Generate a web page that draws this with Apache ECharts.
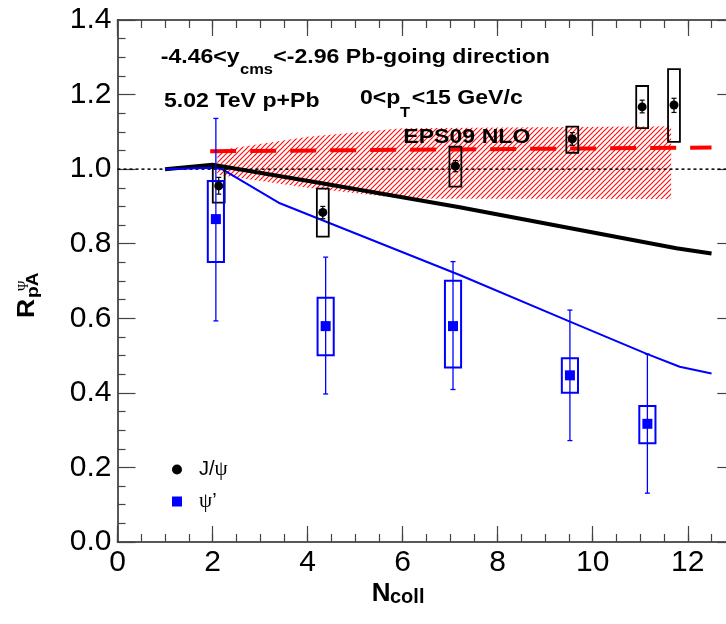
<!DOCTYPE html>
<html><head><meta charset="utf-8">
<script src="https://cdn.jsdelivr.net/npm/echarts@6/dist/echarts.min.js"></script>
<style>html,body{margin:0;padding:0;background:#fff}#c{width:726px;height:624px}</style>
</head><body><div id="c"></div>
<script>
// ---------- axes ----------
const xMin = 0, xMax = 13, xMajor = 2, xMinor = 0.5;
const yMin = 0, yMax = 1.4, yMajor = 0.2;

// ---------- J/psi data ----------
const jpsiX      = [2.13, 4.32, 7.11, 9.57, 11.04, 11.71];
const jpsiY      = [0.955, 0.884, 1.008, 1.081, 1.167, 1.172];
const jpsiStatLo = [0.933, 0.867, 0.993, 1.064, 1.151, 1.152];
const jpsiStatHi = [0.978, 0.900, 1.023, 1.098, 1.185, 1.190];
const jpsiSysLo  = [0.910, 0.819, 0.953, 1.044, 1.110, 1.073];
const jpsiSysHi  = [1.005, 0.948, 1.060, 1.114, 1.223, 1.268];

// ---------- psi' data ----------
const psiX      = [2.07, 4.38, 7.06, 9.52, 11.15];
const psiY      = [0.866, 0.579, 0.579, 0.447, 0.317];
const psiStatLo = [0.593, 0.397, 0.409, 0.272, 0.131];
const psiStatHi = [1.136, 0.764, 0.752, 0.622, 0.504];
const psiSysLo  = [0.751, 0.501, 0.468, 0.400, 0.265];
const psiSysHi  = [0.968, 0.655, 0.701, 0.493, 0.365];

// ---------- model curves ----------
const jpsiModelX = [1, 2, 4.3, 7.2, 11.76, 12.5];
const jpsiModelY = [1.0, 1.012, 0.962, 0.898, 0.788, 0.774];
const psiModelX  = [1, 2, 2.2, 3.39, 7.2, 9.52, 11.15, 11.83, 12.5];
const psiModelY  = [1.0, 1.004, 1.0, 0.91, 0.716, 0.591, 0.504, 0.47, 0.452];
const epsX = [1.95, 12.5];
const epsY = [1.048, 1.058];
const bandX  = [2.1, 4, 6, 11.65];
const bandLo = [0.985, 0.95, 0.921, 0.92];
const bandHi = [1.05, 1.087, 1.11, 1.115];
const unityX = [0, 13];
const unityY = [1, 1];

// ---------- legend ----------
const legendNames = ['J/ψ', 'ψ\u2019'];

const pairs = (xs, ys) => xs.map((x, i) => [x, ys[i]]);

// hatch pattern
const pc = document.createElement('canvas');
pc.width = pc.height = 5;
const g = pc.getContext('2d');
g.strokeStyle = '#ff1010'; g.lineWidth = 1.2;
g.beginPath();
g.moveTo(0, 5); g.lineTo(5, 0);
g.moveTo(-1, 1); g.lineTo(1, -1);
g.moveTo(4, 6); g.lineTo(6, 4);
g.stroke();

function boxRender(halfW, color, lw) {
  return function (params, api) {
    const x = api.value(0), lo = api.value(1), hi = api.value(2);
    const p1 = api.coord([x - halfW, hi]);
    const p2 = api.coord([x + halfW, lo]);
    return { type: 'rect', shape: { x: p1[0], y: p1[1], width: p2[0] - p1[0], height: p2[1] - p1[1] },
      style: { fill: 'none', stroke: color, lineWidth: lw } };
  };
}
function errRender(color, lw, cap) {
  return function (params, api) {
    const x = api.value(0), lo = api.value(1), hi = api.value(2);
    const a = api.coord([x, hi]), b = api.coord([x, lo]);
    const st = { stroke: color, lineWidth: lw };
    return { type: 'group', children: [
      { type: 'line', shape: { x1: a[0], y1: a[1], x2: b[0], y2: b[1] }, style: st },
      { type: 'line', shape: { x1: a[0] - cap, y1: a[1], x2: a[0] + cap, y2: a[1] }, style: st },
      { type: 'line', shape: { x1: b[0] - cap, y1: b[1], x2: b[0] + cap, y2: b[1] }, style: st }
    ] };
  };
}
function bandRender(params, api) {
  if (params.dataIndex !== 0) return null;
  const pts = [];
  for (let i = 0; i < bandX.length; i++) pts.push(api.coord([bandX[i], bandHi[i]]));
  for (let i = bandX.length - 1; i >= 0; i--) pts.push(api.coord([bandX[i], bandLo[i]]));
  return { type: 'polygon', shape: { points: pts }, style: { fill: { image: pc, repeat: 'repeat' }, stroke: 'none' } };
}

const FONT = '"Liberation Sans", Arial, Helvetica, sans-serif';
const SERIF = '"Liberation Serif", "DejaVu Serif", serif';
function txt(x, y, s, size, o) {
  o = o || {};
  return { type: 'text', x: x, y: y, scaleX: o.sx || 1, z: 100,
    style: { text: s, font: (o.bold ? 'bold ' : '') + size + 'px ' + (o.family || FONT),
      fill: '#000', align: 'left', verticalAlign: 'middle' } };
}

const axisLineStyle = { color: '#222', width: 1.5 };
const tickStyle = { color: '#444', width: 1.2 };

const chart = echarts.init(document.getElementById('c'), null, { renderer: 'canvas' });
chart.setOption({
  animation: false,
  backgroundColor: '#fff',
  grid: { left: 117.5, top: 20, width: 617.8, height: 522, containLabel: false, outerBoundsMode: 'none' },
  xAxis: [
    { type: 'value', position: 'bottom', min: xMin, max: xMax, interval: xMajor,
      axisLine: { show: true, onZero: false, lineStyle: axisLineStyle },
      axisTick: { show: true, inside: true, length: 16, lineStyle: tickStyle },
      axisLabel: { show: true, margin: 6, fontSize: 30, color: '#000', fontFamily: FONT, showMaxLabel: false },
      splitLine: { show: false } },
    { type: 'value', position: 'bottom', min: xMin, max: xMax, interval: xMinor,
      axisLine: { show: false, onZero: false },
      axisTick: { show: true, inside: true, length: 8, lineStyle: tickStyle },
      axisLabel: { show: false }, splitLine: { show: false } },
    { type: 'value', position: 'top', min: xMin, max: xMax, interval: xMajor,
      axisLine: { show: true, onZero: false, lineStyle: axisLineStyle },
      axisTick: { show: true, inside: true, length: 16, lineStyle: tickStyle },
      axisLabel: { show: false }, splitLine: { show: false } },
    { type: 'value', position: 'top', min: xMin, max: xMax, interval: xMinor,
      axisLine: { show: false, onZero: false },
      axisTick: { show: true, inside: true, length: 8, lineStyle: tickStyle },
      axisLabel: { show: false }, splitLine: { show: false } }
  ],
  yAxis: [
    { type: 'value', position: 'left', min: yMin, max: yMax, interval: yMajor,
      axisLine: { show: true, onZero: false, lineStyle: axisLineStyle },
      axisTick: { show: true, inside: true, length: 18, lineStyle: tickStyle },
      minorTick: { show: true, splitNumber: 4, length: 8, lineStyle: tickStyle },
      axisLabel: { show: true, margin: 6, fontSize: 30, color: '#000', fontFamily: FONT,
        formatter: v => v.toFixed(1) },
      splitLine: { show: false }, minorSplitLine: { show: false } },
    { type: 'value', position: 'right', min: yMin, max: yMax, interval: yMajor,
      axisLine: { show: true, onZero: false, lineStyle: axisLineStyle },
      axisTick: { show: true, inside: true, length: 18, lineStyle: tickStyle },
      minorTick: { show: true, splitNumber: 4, length: 8, lineStyle: tickStyle },
      axisLabel: { show: false }, splitLine: { show: false }, minorSplitLine: { show: false } }
  ],
  legend: {
    orient: 'vertical', left: 167, top: 454, itemWidth: 34, itemHeight: 10, itemGap: 11,
    data: [{ name: legendNames[0], icon: 'circle' }, { name: legendNames[1], icon: 'path://M0,0H10V10H0Z' }],
    formatter: n => n.replace('ψ', '{g|ψ}'),
    textStyle: { fontSize: 20, color: '#000', fontFamily: FONT,
      rich: { g: { fontSize: 21, fontFamily: SERIF, color: '#000' } } },
    selectedMode: false
  },
  series: [
    { type: 'custom', name: 'band', renderItem: bandRender, z: 1,
      data: bandX.map((x, i) => [x, bandLo[i], bandHi[i]]), encode: { x: 0, y: [1, 2] }, silent: true },
    { type: 'line', name: 'unity', data: pairs(unityX, unityY), symbol: 'none', z: 2,
      lineStyle: { color: '#000', width: 1.5, type: [3, 3] }, silent: true },
    { type: 'line', name: 'eps', data: pairs(epsX, epsY), symbol: 'none', z: 3,
      lineStyle: { color: '#ff0000', width: 4, type: [26, 14] }, silent: true },
    { type: 'line', name: 'jmodel', data: pairs(jpsiModelX, jpsiModelY), symbol: 'none', z: 4,
      lineStyle: { color: '#000', width: 4 }, silent: true },
    { type: 'line', name: 'pmodel', data: pairs(psiModelX, psiModelY), symbol: 'none', z: 4,
      lineStyle: { color: '#0000ff', width: 2 }, silent: true },
    { type: 'custom', name: 'jsys', renderItem: boxRender(0.125, '#000', 1.8), z: 5,
      data: jpsiX.map((x, i) => [x, jpsiSysLo[i], jpsiSysHi[i]]), encode: { x: 0, y: [1, 2] } },
    { type: 'custom', name: 'psys', renderItem: boxRender(0.17, '#0000ff', 2), z: 5,
      data: psiX.map((x, i) => [x, psiSysLo[i], psiSysHi[i]]), encode: { x: 0, y: [1, 2] } },
    { type: 'custom', name: 'jstat', renderItem: errRender('#000', 1.2, 2.5), z: 6,
      data: jpsiX.map((x, i) => [x, jpsiStatLo[i], jpsiStatHi[i]]), encode: { x: 0, y: [1, 2] } },
    { type: 'custom', name: 'pstat', renderItem: errRender('#0000ff', 1.3, 2.5), z: 6,
      data: psiX.map((x, i) => [x, psiStatLo[i], psiStatHi[i]]), encode: { x: 0, y: [1, 2] } },
    { type: 'scatter', name: legendNames[0], data: pairs(jpsiX, jpsiY), symbol: 'circle', symbolSize: 9, z: 7,
      itemStyle: { color: '#000', opacity: 1 } },
    { type: 'scatter', name: legendNames[1], data: pairs(psiX, psiY), symbol: 'rect', symbolSize: 10, z: 7,
      itemStyle: { color: '#0000ff', opacity: 1 } }
  ],
  graphic: [
    txt(160.7, 57.6, '-4.46<y', 21, { bold: true, sx: 1.1 }),
    txt(240, 69.7, 'cms', 15, { bold: true, sx: 1.1 }),
    txt(273.3, 57.6, '<-2.96 Pb-going direction', 21, { bold: true, sx: 1.1 }),
    txt(164, 101.6, '5.02 TeV p+Pb', 21, { bold: true, sx: 1.1 }),
    txt(360, 98.6, '0<p', 21, { bold: true, sx: 1.1 }),
    txt(400, 112.7, 'T', 15, { bold: true, sx: 1.1 }),
    txt(411.7, 98.6, '<15 GeV/c', 21, { bold: true, sx: 1.1 }),
    txt(403.3, 137.6, 'EPS09 NLO', 21, { bold: true, sx: 1.1 }),
    txt(371.7, 593.9, 'N', 26, { bold: true }),
    txt(390, 597, 'coll', 20, { bold: true }),
    { type: 'group', x: 36, y: 318, rotation: Math.PI / 2, children: [
      txt(0, -8, 'R', 23, { bold: true, sx: 1.15 }),
      txt(20, -2.1, 'pA', 16, { bold: true, sx: 1.2 }),
      txt(27, -12, 'Ψ', 14, { family: SERIF })
    ] }
  ]
});
</script>
</body></html>
